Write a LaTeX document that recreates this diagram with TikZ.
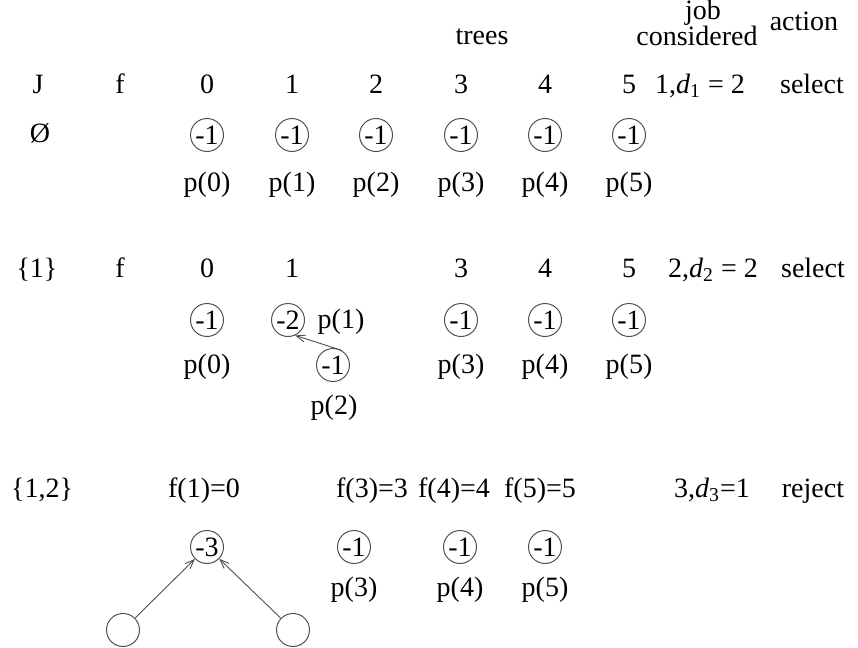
\documentclass[tikz,border=0pt]{standalone}
\usepackage{fontspec}
\setmainfont{Liberation Serif}
\usetikzlibrary{arrows.meta}
\definecolor{ringgray}{HTML}{505050}

\begin{document}
\begin{tikzpicture}[
  x=0.5pt, y=-0.5pt,
  every node/.style={font=\fontsize{14}{16}\selectfont, inner sep=0pt},
  lbl/.style={anchor=base},
  cell/.style={circle, draw=ringgray, line width=0.5pt, minimum size=16.5pt, inner sep=0pt},
  link/.style={draw=ringgray, line width=0.45pt, -{Straight Barb[length=4.5pt, width=3.5pt]}},
]
\useasboundingbox (0,0) rectangle (858,648);

% headings
\node[lbl] (trees) at (482,45) {trees};
\node[lbl] (cons) at (697,46) {considered};
\node[lbl] (job) at (703,19) {job};
\node[lbl] (act) at (804,31) {action};

% J = empty set
\node[lbl] (hJ) at (38,93) {J};
\node[lbl] (hf) at (120,93) {f};
\foreach \i/\x in {0/207,1/292,2/376,3/461,4/545,5/629} {
  \node[lbl] (ta\i) at (\x,93) {\i};
  \node[cell] (a\i) at (\x,135) {-1};
  \node[lbl] (pa\i) at (\x,191) {p(\i)};
}
\node (Ja) at (40,133) {\O};
\node[lbl] (ja) at (700,93) {1,\textit{d}\textsubscript{1} = 2};
\node[lbl] (aa) at (812,93) {select};

% J = {1}
\node[lbl] (Jb) at (37,277) {\{1\}};
\node[lbl] (fb) at (120,277) {f};
\foreach \i/\x in {0/207,1/292,3/461,4/545,5/629}
  \node[lbl] (tb\i) at (\x,277) {\i};
\foreach \i/\x in {0/207,3/461,4/545,5/629} {
  \node[cell] (b\i) at (\x,320) {-1};
  \node[lbl] (pb\i) at (\x,373) {p(\i)};
}
\node[cell] (b1) at (288,320) {-2};
\node[lbl] (pb1) at (341,328) {p(1)};
\node[cell] (b2) at (333,365) {-1};
\node[lbl] (pb2) at (334,414) {p(2)};
\draw[link] (b2.60) -- (b1.-65);
\node[lbl] (jb) at (713,277) {2,\textit{d}\textsubscript{2} = 2};
\node[lbl] (ab) at (813,277) {select};

% J = {1,2}
\node[lbl] (Jc) at (42,497) {\{1,2\}};
\node[lbl] (fc1) at (204,497) {f(1)=0};
\node[lbl] (fc3) at (372,497) {f(3)=3};
\node[lbl] (fc4) at (454,497) {f(4)=4};
\node[lbl] (fc5) at (540,497) {f(5)=5};
\node[cell] (c1) at (207,547) {-3};
\foreach \i/\x in {3/354,4/460,5/545} {
  \node[cell] (c\i) at (\x,547) {-1};
  \node[lbl] (pc\i) at (\x,596) {p(\i)};
}
\node[cell] (lc) at (123,630) {};
\node[cell] (rc) at (293,630) {};
\draw[link] (lc) -- (c1);
\draw[link] (rc) -- (c1);
\node[lbl] (jc) at (712,497) {3,\textit{d}\textsubscript{3}=1};
\node[lbl] (ac) at (813,497) {reject};
\end{tikzpicture}
\end{document}
